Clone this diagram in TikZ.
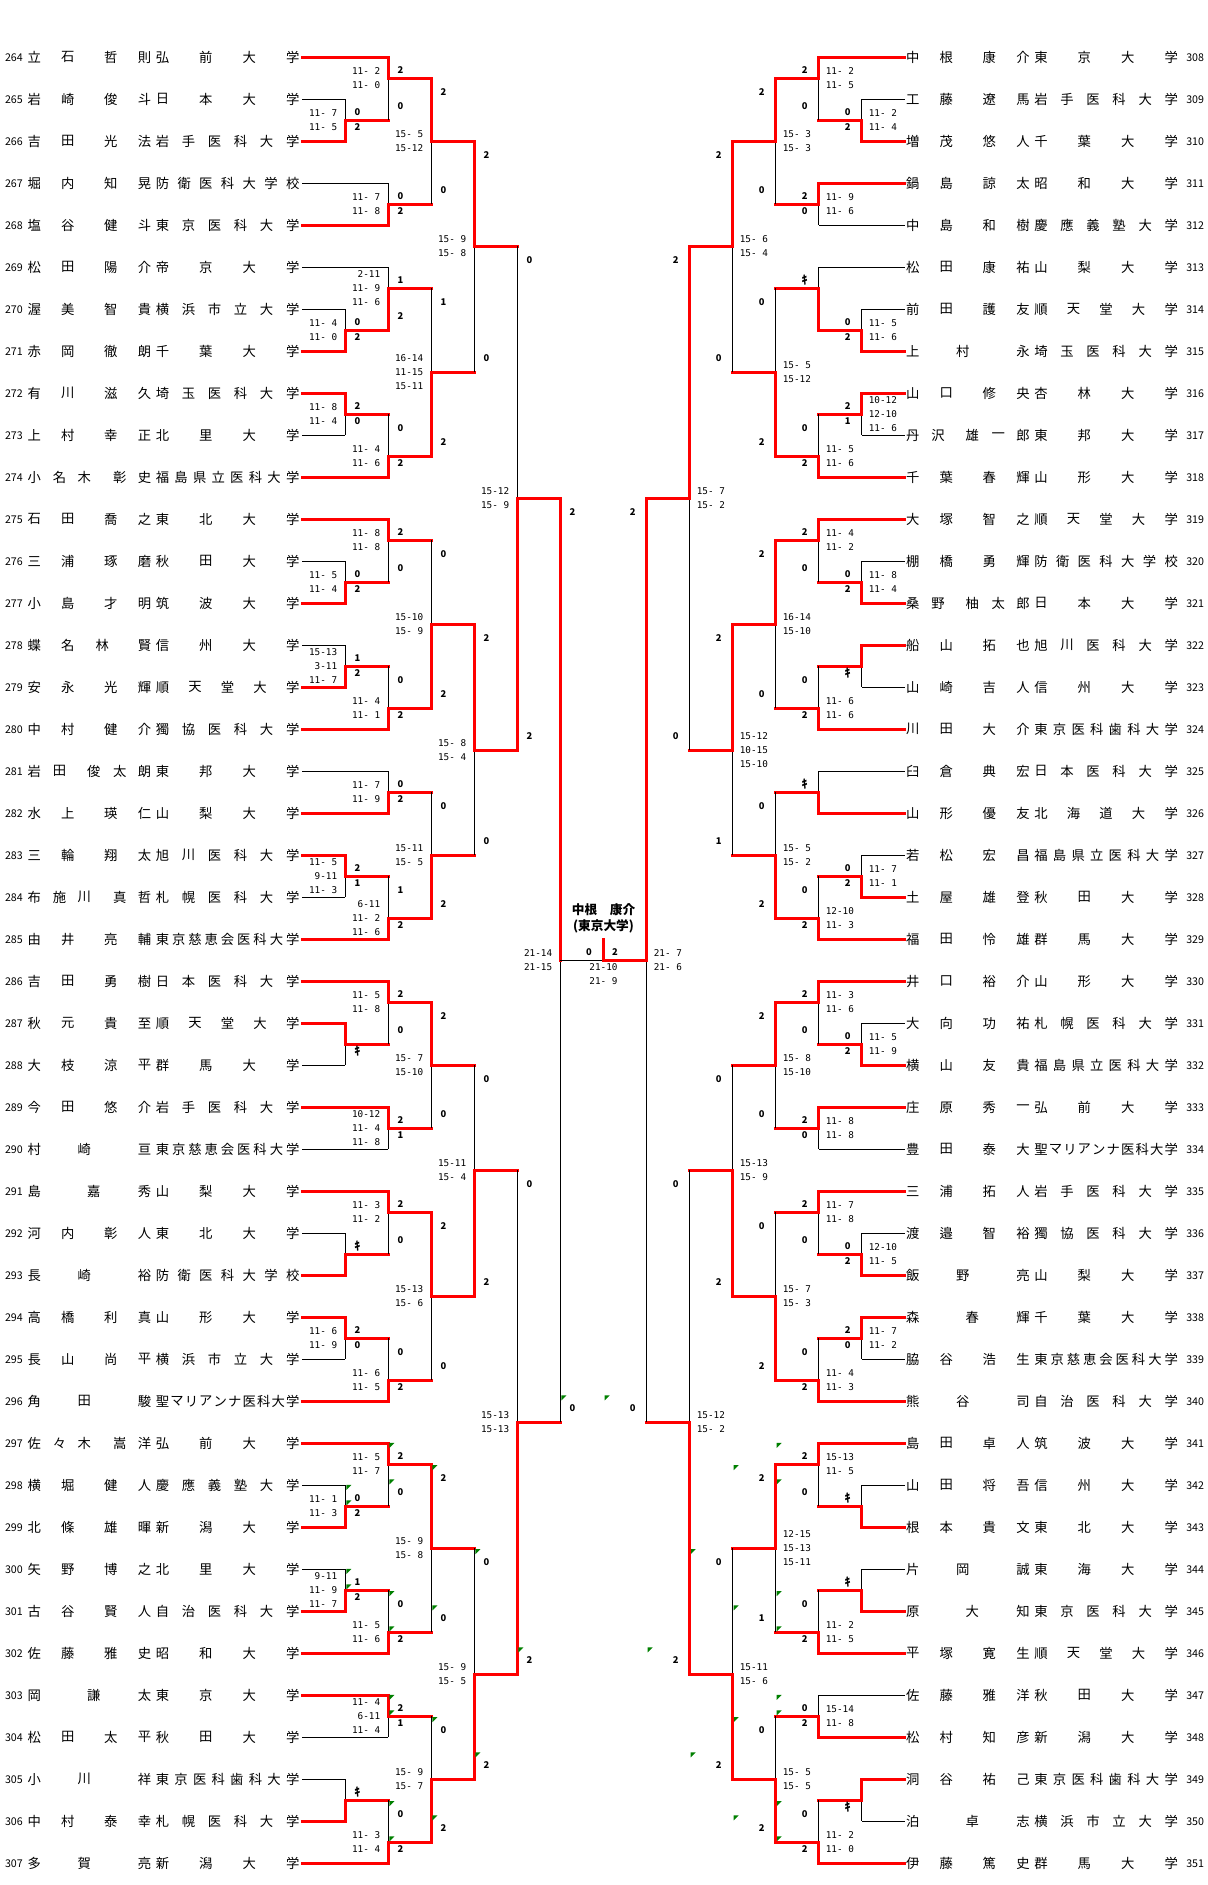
\documentclass[tikz,border=0pt]{standalone}
\usepackage{fontspec}
\setmainfont{Noto Sans CJK JP}
\newfontfamily\scorefont{DejaVu Sans Mono}
\definecolor{okgreen}{RGB}{0,128,0}

\tikzset{
	win/.style={red, line width=2.4pt, line cap=rect},
	lose/.style={black, line width=0.75pt},
	advline/.style={win},
	jp/.style={inner sep=0pt, font=\fontsize{10}{12}\selectfont},
	plno/.style={inner sep=0pt, anchor=west, font=\fontsize{8}{9}\selectfont},
	game/.style={inner sep=0pt, font=\scorefont\fontsize{7}{10.5}\selectfont},
	score/.style={inner sep=0pt, font=\bfseries\fontsize{7}{8}\selectfont},
	kiken/.style={inner sep=0pt, font=\bfseries\fontsize{9}{10}\selectfont},
	champ/.style={inner sep=0pt, font=\bfseries\fontsize{9.5}{11}\selectfont},
	okmark/.style={fill=okgreen}
}

\makeatletter
\newcount\chn
\newcount\chk
\def\kk{ｷ}
\def\Pbb{{34.4,67.8,110.9,144.6}}
\def\Pcb{{34.4,59.6,84.4,119.8,144.6}}
\def\Pbc{{34.4,59.6,93.7,119.8,144.6}}
\def\Pba{{34.4,84.4,144.6}}
\def\Pab{{34.4,93.7,144.6}}
\def\Pca{{34.4,67.8,102.3,144.6}}

\newcommand{\setside}[1]{%
	\if#1L\def\sgn{1}\def\off{0}\def\tsh{0}\def\numx{4.8}%
	\else\def\sgn{-1}\def\off{1207}\def\tsh{878.5}\def\numx{1186}\fi}

\newcommand{\player}[8]{%
	\setside{#1}%
	\pgfmathsetmacro{\py}{57.3+42*#2}%
	\node[plno] (n#3) at (\numx,\py) {#3};%
	\chk=0
	\@tfor\ch:=#5\do{%
		\pgfmathsetmacro{\px}{\tsh+#4[\the\chk]}%
		\node[jp] at (\px,\py) {\ch};%
		\advance\chk by 1\relax}%
	\chn=0
	\@tfor\ch:=#6\do{\advance\chn by 1\relax}%
	\chk=0
	\@tfor\ch:=#6\do{%
		\pgfmathsetmacro{\px}{\tsh+162.5+130.2*\the\chk/(\the\chn-1)}%
		\node[jp] at (\px,\py) {\ch};%
		\advance\chk by 1\relax}%
	\pgfmathsetmacro{\ex}{\off+\sgn*302.4}%
	\pgfmathsetmacro{\fx}{\off+\sgn*(302.4+43*#7)}%
	\coordinate (e#3) at (\ex,\py);%
	\coordinate (f#3) at (\fx,\py);%
	\draw[#8] (e#3) -- (f#3);%
}

\newcommand{\scell}[3]{%
	\def\tmpa{#3}%
	\ifx\tmpa\kk
		\node[kiken] at (#1,{57.3+42*#2}) {#3};%
	\else
		\node[score] at (#1,{57.3+42*#2}) {#3};%
		\ifdim#2pt>32pt\relax
			\ifx\tmpa\empty\else
				\fill[okmark] (\trx,{57.3+42*#2-13}) -- ++(5,0) -- ++(-5,5) -- cycle;%
			\fi
		\fi
	\fi}

\newcommand{\bmatch}[9]{%
	\setside{#1}%
	\pgfmathsetmacro{\ca}{\off+\sgn*(302.4+43*#2)}%
	\pgfmathsetmacro{\cb}{\off+\sgn*(302.4+43*(#2+1))}%
	\pgfmathsetmacro{\yo}{57.3+42*#5}%
	\draw[lose] (\ca,{57.3+42*#3}) -- (\ca,{57.3+42*#4});%
	\draw[win] (\ca,{57.3+42*#6}) -- (\ca,\yo);%
	\draw[advline] (\ca,\yo) -- (\cb,\yo);%
	\pgfmathsetmacro{\sx}{\ca+13*\sgn-1}%
	\if#1L\pgfmathsetmacro{\trx}{\ca+1}\else\pgfmathsetmacro{\trx}{\cb+1}\fi
	\pgfmathsetmacro{\ra}{(#5-#3>0.9) ? #3+0.33 : #5-0.2}%
	\pgfmathsetmacro{\rb}{(#4-#5>0.9) ? #4-0.33 : #5+0.17}%
	\scell{\sx}{\ra}{#7}%
	\scell{\sx}{\rb}{#8}%
	\pgfmathsetmacro{\gx}{\ca-7.5*\sgn-0.5}%
	\if#1L\node[game,anchor=east,align=right] at (\gx,\yo) {#9};%
	\else\node[game,anchor=west,align=left] at (\gx,\yo) {#9};\fi
}
\makeatother

\begin{document}
\begin{tikzpicture}[x=0.75pt,y=-0.75pt]
\fill[white] (0,0) rectangle (1207,1885);
\useasboundingbox (0,0) rectangle (1207,1885);

\player{L}{0}{264}{\Pbb}{立石哲則}{弘前大学}{2}{win}
\player{L}{1}{265}{\Pbb}{岩崎俊斗}{日本大学}{1}{lose}
\player{L}{2}{266}{\Pbb}{吉田光法}{岩手医科大学}{1}{win}
\player{L}{3}{267}{\Pbb}{堀内知晃}{防衛医科大学校}{2}{lose}
\player{L}{4}{268}{\Pbb}{塩谷健斗}{東京医科大学}{2}{win}
\player{L}{5}{269}{\Pbb}{松田陽介}{帝京大学}{2}{lose}
\player{L}{6}{270}{\Pbb}{渥美智貴}{横浜市立大学}{1}{lose}
\player{L}{7}{271}{\Pbb}{赤岡徹朗}{千葉大学}{1}{win}
\player{L}{8}{272}{\Pbb}{有川滋久}{埼玉医科大学}{1}{win}
\player{L}{9}{273}{\Pbb}{上村幸正}{北里大学}{1}{lose}
\player{L}{10}{274}{\Pcb}{小名木彰史}{福島県立医科大学}{2}{win}
\player{L}{11}{275}{\Pbb}{石田喬之}{東北大学}{2}{win}
\player{L}{12}{276}{\Pbb}{三浦琢磨}{秋田大学}{1}{lose}
\player{L}{13}{277}{\Pbb}{小島才明}{筑波大学}{1}{win}
\player{L}{14}{278}{\Pca}{蝶名林賢}{信州大学}{1}{lose}
\player{L}{15}{279}{\Pbb}{安永光輝}{順天堂大学}{1}{win}
\player{L}{16}{280}{\Pbb}{中村健介}{獨協医科大学}{2}{win}
\player{L}{17}{281}{\Pbc}{岩田俊太朗}{東邦大学}{2}{lose}
\player{L}{18}{282}{\Pbb}{水上瑛仁}{山梨大学}{2}{win}
\player{L}{19}{283}{\Pbb}{三輪翔太}{旭川医科大学}{1}{win}
\player{L}{20}{284}{\Pcb}{布施川真哲}{札幌医科大学}{1}{lose}
\player{L}{21}{285}{\Pbb}{由井亮輔}{東京慈恵会医科大学}{2}{win}
\player{L}{22}{286}{\Pbb}{吉田勇樹}{日本医科大学}{2}{win}
\player{L}{23}{287}{\Pbb}{秋元貴至}{順天堂大学}{1}{win}
\player{L}{24}{288}{\Pbb}{大枝涼平}{群馬大学}{1}{lose}
\player{L}{25}{289}{\Pbb}{今田悠介}{岩手医科大学}{2}{win}
\player{L}{26}{290}{\Pba}{村崎亘}{東京慈恵会医科大学}{2}{lose}
\player{L}{27}{291}{\Pab}{島嘉秀}{山梨大学}{2}{win}
\player{L}{28}{292}{\Pbb}{河内彰人}{東北大学}{1}{lose}
\player{L}{29}{293}{\Pba}{長崎裕}{防衛医科大学校}{1}{win}
\player{L}{30}{294}{\Pbb}{高橋利真}{山形大学}{1}{win}
\player{L}{31}{295}{\Pbb}{長山尚平}{横浜市立大学}{1}{lose}
\player{L}{32}{296}{\Pba}{角田駿}{聖マリアンナ医科大学}{2}{win}
\player{L}{33}{297}{\Pcb}{佐々木嵩洋}{弘前大学}{2}{win}
\player{L}{34}{298}{\Pbb}{横堀健人}{慶應義塾大学}{1}{lose}
\player{L}{35}{299}{\Pbb}{北條雄暉}{新潟大学}{1}{win}
\player{L}{36}{300}{\Pbb}{矢野博之}{北里大学}{1}{lose}
\player{L}{37}{301}{\Pbb}{古谷賢人}{自治医科大学}{1}{win}
\player{L}{38}{302}{\Pbb}{佐藤雅史}{昭和大学}{2}{win}
\player{L}{39}{303}{\Pab}{岡謙太}{東京大学}{2}{win}
\player{L}{40}{304}{\Pbb}{松田太平}{秋田大学}{2}{lose}
\player{L}{41}{305}{\Pba}{小川祥}{東京医科歯科大学}{1}{lose}
\player{L}{42}{306}{\Pbb}{中村泰幸}{札幌医科大学}{1}{win}
\player{L}{43}{307}{\Pba}{多賀亮}{新潟大学}{2}{win}

\player{R}{0}{308}{\Pbb}{中根康介}{東京大学}{2}{win}
\player{R}{1}{309}{\Pbb}{工藤遼馬}{岩手医科大学}{1}{lose}
\player{R}{2}{310}{\Pbb}{増茂悠人}{千葉大学}{1}{win}
\player{R}{3}{311}{\Pbb}{鍋島諒太}{昭和大学}{2}{win}
\player{R}{4}{312}{\Pbb}{中島和樹}{慶應義塾大学}{2}{lose}
\player{R}{5}{313}{\Pbb}{松田康祐}{山梨大学}{2}{lose}
\player{R}{6}{314}{\Pbb}{前田護友}{順天堂大学}{1}{lose}
\player{R}{7}{315}{\Pba}{上村永}{埼玉医科大学}{1}{win}
\player{R}{8}{316}{\Pbb}{山口修央}{杏林大学}{1}{win}
\player{R}{9}{317}{\Pbc}{丹沢雄一郎}{東邦大学}{1}{lose}
\player{R}{10}{318}{\Pbb}{千葉春輝}{山形大学}{2}{win}
\player{R}{11}{319}{\Pbb}{大塚智之}{順天堂大学}{2}{win}
\player{R}{12}{320}{\Pbb}{棚橋勇輝}{防衛医科大学校}{1}{lose}
\player{R}{13}{321}{\Pbc}{桑野柚太郎}{日本大学}{1}{win}
\player{R}{14}{322}{\Pbb}{船山拓也}{旭川医科大学}{1}{win}
\player{R}{15}{323}{\Pbb}{山崎吉人}{信州大学}{1}{lose}
\player{R}{16}{324}{\Pbb}{川田大介}{東京医科歯科大学}{2}{win}
\player{R}{17}{325}{\Pbb}{臼倉典宏}{日本医科大学}{2}{lose}
\player{R}{18}{326}{\Pbb}{山形優友}{北海道大学}{2}{win}
\player{R}{19}{327}{\Pbb}{若松宏昌}{福島県立医科大学}{1}{lose}
\player{R}{20}{328}{\Pbb}{土屋雄登}{秋田大学}{1}{win}
\player{R}{21}{329}{\Pbb}{福田怜雄}{群馬大学}{2}{win}
\player{R}{22}{330}{\Pbb}{井口裕介}{山形大学}{2}{win}
\player{R}{23}{331}{\Pbb}{大向功祐}{札幌医科大学}{1}{lose}
\player{R}{24}{332}{\Pbb}{横山友貴}{福島県立医科大学}{1}{win}
\player{R}{25}{333}{\Pbb}{庄原秀一}{弘前大学}{2}{win}
\player{R}{26}{334}{\Pbb}{豊田泰大}{聖マリアンナ医科大学}{2}{lose}
\player{R}{27}{335}{\Pbb}{三浦拓人}{岩手医科大学}{2}{win}
\player{R}{28}{336}{\Pbb}{渡邉智裕}{獨協医科大学}{1}{lose}
\player{R}{29}{337}{\Pba}{飯野亮}{山梨大学}{1}{win}
\player{R}{30}{338}{\Pab}{森春輝}{千葉大学}{1}{win}
\player{R}{31}{339}{\Pbb}{脇谷浩生}{東京慈恵会医科大学}{1}{lose}
\player{R}{32}{340}{\Pba}{熊谷司}{自治医科大学}{2}{win}
\player{R}{33}{341}{\Pbb}{島田卓人}{筑波大学}{2}{win}
\player{R}{34}{342}{\Pbb}{山田将吾}{信州大学}{1}{lose}
\player{R}{35}{343}{\Pbb}{根本貴文}{東北大学}{1}{win}
\player{R}{36}{344}{\Pba}{片岡誠}{東海大学}{1}{lose}
\player{R}{37}{345}{\Pab}{原大知}{東京医科大学}{1}{win}
\player{R}{38}{346}{\Pbb}{平塚寛生}{順天堂大学}{2}{win}
\player{R}{39}{347}{\Pbb}{佐藤雅洋}{秋田大学}{2}{lose}
\player{R}{40}{348}{\Pbb}{松村知彦}{新潟大学}{2}{win}
\player{R}{41}{349}{\Pbb}{洞谷祐己}{東京医科歯科大学}{1}{win}
\player{R}{42}{350}{\Pab}{泊卓志}{横浜市立大学}{1}{lose}
\player{R}{43}{351}{\Pbb}{伊藤篤史}{群馬大学}{2}{win}

\bmatch{L}{1}{1}{2}{1.5}{2}{0}{2}{11- 7\\11- 5}
\bmatch{L}{1}{6}{7}{6.5}{7}{0}{2}{11- 4\\11- 0}
\bmatch{L}{1}{8}{9}{8.5}{8}{2}{0}{11- 8\\11- 4}
\bmatch{L}{1}{12}{13}{12.5}{13}{0}{2}{11- 5\\11- 4}
\bmatch{L}{1}{14}{15}{14.5}{15}{1}{2}{15-13\\3-11\\11- 7}
\bmatch{L}{1}{19}{20}{19.5}{19}{2}{1}{11- 5\\9-11\\11- 3}
\bmatch{L}{1}{23}{24}{23.5}{23}{}{ｷ}{}
\bmatch{L}{1}{28}{29}{28.5}{29}{ｷ}{}{}
\bmatch{L}{1}{30}{31}{30.5}{30}{2}{0}{11- 6\\11- 9}
\bmatch{L}{1}{34}{35}{34.5}{35}{0}{2}{11- 1\\11- 3}
\bmatch{L}{1}{36}{37}{36.5}{37}{1}{2}{9-11\\11- 9\\11- 7}
\bmatch{L}{1}{41}{42}{41.5}{42}{ｷ}{}{}

\bmatch{L}{2}{0}{1.5}{0.5}{0}{2}{0}{11- 2\\11- 0}
\bmatch{L}{2}{3}{4}{3.5}{4}{0}{2}{11- 7\\11- 8}
\bmatch{L}{2}{5}{6.5}{5.5}{6.5}{1}{2}{2-11\\11- 9\\11- 6}
\bmatch{L}{2}{8.5}{10}{9.5}{10}{0}{2}{11- 4\\11- 6}
\bmatch{L}{2}{11}{12.5}{11.5}{11}{2}{0}{11- 8\\11- 8}
\bmatch{L}{2}{14.5}{16}{15.5}{16}{0}{2}{11- 4\\11- 1}
\bmatch{L}{2}{17}{18}{17.5}{18}{0}{2}{11- 7\\11- 9}
\bmatch{L}{2}{19.5}{21}{20.5}{21}{1}{2}{6-11\\11- 2\\11- 6}
\bmatch{L}{2}{22}{23.5}{22.5}{22}{2}{0}{11- 5\\11- 8}
\bmatch{L}{2}{25}{26}{25.5}{25}{2}{1}{10-12\\11- 4\\11- 8}
\bmatch{L}{2}{27}{28.5}{27.5}{27}{2}{0}{11- 3\\11- 2}
\bmatch{L}{2}{30.5}{32}{31.5}{32}{0}{2}{11- 6\\11- 5}
\bmatch{L}{2}{33}{34.5}{33.5}{33}{2}{0}{11- 5\\11- 7}
\bmatch{L}{2}{36.5}{38}{37.5}{38}{0}{2}{11- 5\\11- 6}
\bmatch{L}{2}{39}{40}{39.5}{39}{2}{1}{11- 4\\6-11\\11- 4}
\bmatch{L}{2}{41.5}{43}{42.5}{43}{0}{2}{11- 3\\11- 4}

\bmatch{L}{3}{0.5}{3.5}{2}{0.5}{2}{0}{15- 5\\15-12}
\bmatch{L}{3}{5.5}{9.5}{7.5}{9.5}{1}{2}{16-14\\11-15\\15-11}
\bmatch{L}{3}{11.5}{15.5}{13.5}{15.5}{0}{2}{15-10\\15- 9}
\bmatch{L}{3}{17.5}{20.5}{19}{20.5}{0}{2}{15-11\\15- 5}
\bmatch{L}{3}{22.5}{25.5}{24}{22.5}{2}{0}{15- 7\\15-10}
\bmatch{L}{3}{27.5}{31.5}{29.5}{27.5}{2}{0}{15-13\\15- 6}
\bmatch{L}{3}{33.5}{37.5}{35.5}{33.5}{2}{0}{15- 9\\15- 8}
\bmatch{L}{3}{39.5}{42.5}{41}{42.5}{0}{2}{15- 9\\15- 7}

\bmatch{L}{4}{2}{7.5}{4.5}{2}{2}{0}{15- 9\\15- 8}
\bmatch{L}{4}{13.5}{19}{16.5}{13.5}{2}{0}{15- 8\\15- 4}
\bmatch{L}{4}{24}{29.5}{26.5}{29.5}{0}{2}{15-11\\15- 4}
\bmatch{L}{4}{35.5}{41}{38.5}{41}{0}{2}{15- 9\\15- 5}

\bmatch{L}{5}{4.5}{16.5}{10.5}{16.5}{0}{2}{15-12\\15- 9}
\bmatch{L}{5}{26.5}{38.5}{32.5}{38.5}{0}{2}{15-13\\15-13}

\tikzset{advline/.style={lose}}
\bmatch{L}{6}{10.5}{32.5}{21.5}{10.5}{2}{0}{21-14\\21-15}
\tikzset{advline/.style={win}}

\bmatch{R}{1}{1}{2}{1.5}{2}{0}{2}{11- 2\\11- 4}
\bmatch{R}{1}{6}{7}{6.5}{7}{0}{2}{11- 5\\11- 6}
\bmatch{R}{1}{8}{9}{8.5}{8}{2}{1}{10-12\\12-10\\11- 6}
\bmatch{R}{1}{12}{13}{12.5}{13}{0}{2}{11- 8\\11- 4}
\bmatch{R}{1}{14}{15}{14.5}{14}{}{ｷ}{}
\bmatch{R}{1}{19}{20}{19.5}{20}{0}{2}{11- 7\\11- 1}
\bmatch{R}{1}{23}{24}{23.5}{24}{0}{2}{11- 5\\11- 9}
\bmatch{R}{1}{28}{29}{28.5}{29}{0}{2}{12-10\\11- 5}
\bmatch{R}{1}{30}{31}{30.5}{30}{2}{0}{11- 7\\11- 2}
\bmatch{R}{1}{34}{35}{34.5}{35}{ｷ}{}{}
\bmatch{R}{1}{36}{37}{36.5}{37}{ｷ}{}{}
\bmatch{R}{1}{41}{42}{41.5}{41}{}{ｷ}{}

\bmatch{R}{2}{0}{1.5}{0.5}{0}{2}{0}{11- 2\\11- 5}
\bmatch{R}{2}{3}{4}{3.5}{3}{2}{0}{11- 9\\11- 6}
\bmatch{R}{2}{5}{6.5}{5.5}{6.5}{ｷ}{}{}
\bmatch{R}{2}{8.5}{10}{9.5}{10}{0}{2}{11- 5\\11- 6}
\bmatch{R}{2}{11}{12.5}{11.5}{11}{2}{0}{11- 4\\11- 2}
\bmatch{R}{2}{14.5}{16}{15.5}{16}{0}{2}{11- 6\\11- 6}
\bmatch{R}{2}{17}{18}{17.5}{18}{ｷ}{}{}
\bmatch{R}{2}{19.5}{21}{20.5}{21}{0}{2}{12-10\\11- 3}
\bmatch{R}{2}{22}{23.5}{22.5}{22}{2}{0}{11- 3\\11- 6}
\bmatch{R}{2}{25}{26}{25.5}{25}{2}{0}{11- 8\\11- 8}
\bmatch{R}{2}{27}{28.5}{27.5}{27}{2}{0}{11- 7\\11- 8}
\bmatch{R}{2}{30.5}{32}{31.5}{32}{0}{2}{11- 4\\11- 3}
\bmatch{R}{2}{33}{34.5}{33.5}{33}{2}{0}{15-13\\11- 5}
\bmatch{R}{2}{36.5}{38}{37.5}{38}{0}{2}{11- 2\\11- 5}
\bmatch{R}{2}{39}{40}{39.5}{40}{0}{2}{15-14\\11- 8}
\bmatch{R}{2}{41.5}{43}{42.5}{43}{0}{2}{11- 2\\11- 0}

\bmatch{R}{3}{0.5}{3.5}{2}{0.5}{2}{0}{15- 3\\15- 3}
\bmatch{R}{3}{5.5}{9.5}{7.5}{9.5}{0}{2}{15- 5\\15-12}
\bmatch{R}{3}{11.5}{15.5}{13.5}{11.5}{2}{0}{16-14\\15-10}
\bmatch{R}{3}{17.5}{20.5}{19}{20.5}{0}{2}{15- 5\\15- 2}
\bmatch{R}{3}{22.5}{25.5}{24}{22.5}{2}{0}{15- 8\\15-10}
\bmatch{R}{3}{27.5}{31.5}{29.5}{31.5}{0}{2}{15- 7\\15- 3}
\bmatch{R}{3}{33.5}{37.5}{35.5}{33.5}{2}{1}{12-15\\15-13\\15-11}
\bmatch{R}{3}{39.5}{42.5}{41}{42.5}{0}{2}{15- 5\\15- 5}

\bmatch{R}{4}{2}{7.5}{4.5}{2}{2}{0}{15- 6\\15- 4}
\bmatch{R}{4}{13.5}{19}{16.5}{13.5}{2}{1}{15-12\\10-15\\15-10}
\bmatch{R}{4}{24}{29.5}{26.5}{29.5}{0}{2}{15-13\\15- 9}
\bmatch{R}{4}{35.5}{41}{38.5}{41}{0}{2}{15-11\\15- 6}

\bmatch{R}{5}{4.5}{16.5}{10.5}{4.5}{2}{0}{15- 7\\15- 2}
\bmatch{R}{5}{26.5}{38.5}{32.5}{38.5}{0}{2}{15-12\\15- 2}

\bmatch{R}{6}{10.5}{32.5}{21.5}{10.5}{2}{0}{21- 7\\21- 6}

\pgfmathsetmacro{\finY}{57.3+42*21.5}
\coordinate (top) at (603.5,{57.3+42*21});
\coordinate (fin) at (603.5,\finY);
\draw[win] (top) -- (fin);
\node[score] (fl) at (589,{57.3+42*21.3}) {0};
\node[score] (fr) at (615,{57.3+42*21.3}) {2};
\node[game,align=center] (fg) at (603.5,{57.3+42*21.83}) {21-10\\21- 9};
\node[champ] (cn) at (603.5,{57.3+42*20.3}) {中根　康介};
\node[champ] (cu) at (603.5,{57.3+42*20.7}) {(東京大学)};
\end{tikzpicture}
\end{document}
